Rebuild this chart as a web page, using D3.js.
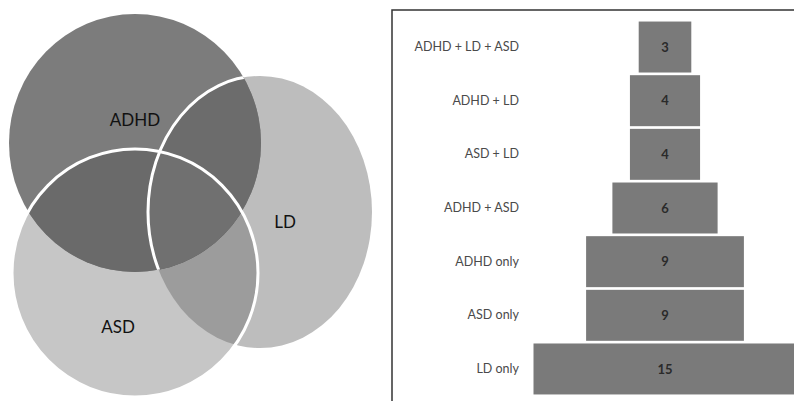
<!DOCTYPE html>
<html><head><meta charset="utf-8">
<script src="https://cdn.jsdelivr.net/npm/d3@7"></script>
<style>html,body{margin:0;padding:0;background:#fff;}svg{display:block;}</style>
</head><body>
<svg id="chart" width="794" height="401"></svg>
<script>
// ---- data ----
const categories = ["ADHD + LD + ASD", "ADHD + LD", "ASD + LD", "ADHD + ASD", "ADHD only", "ASD only", "LD only"];
const values = [3, 4, 4, 6, 9, 9, 15];
const setNames = ["ADHD", "LD", "ASD"];

// ---- layout ----
const svg = d3.select("#chart");
const font = "Lato, 'Open Sans', sans-serif";

// Venn geometry (layout)
const venn = {
  ADHD: {cx: 135, cy: 143, rx: 126, ry: 129, label: [135, 126]},
  LD:   {cx: 260, cy: 212, rx: 112, ry: 136, label: [285, 228]},
  ASD:  {cx: 135, cy: 273, rx: 123, ry: 124, label: [118, 333]}
};
const defs = svg.append("defs");
setNames.forEach(n => {
  defs.append("clipPath").attr("id", "clip-" + n)
    .append("ellipse").attr("cx", venn[n].cx).attr("cy", venn[n].cy)
    .attr("rx", venn[n].rx).attr("ry", venn[n].ry);
});
const g = svg.append("g");
function ell(n, fill, clips) {
  let parent = g;
  clips.forEach(c => { parent = parent.append("g").attr("clip-path", `url(#clip-${c})`); });
  return parent.append("ellipse").attr("cx", venn[n].cx).attr("cy", venn[n].cy)
    .attr("rx", venn[n].rx).attr("ry", venn[n].ry).attr("fill", fill);
}
ell("ASD", "#c6c6c6", []);
ell("LD", "#bdbdbd", []);
ell("LD", "#9c9c9c", ["ASD"]);
ell("ADHD", "#7c7c7c", []);
ell("LD", "#6c6c6c", ["ADHD"]);
ell("ASD", "#6a6a6a", ["ADHD"]);
ell("LD", "#707070", ["ADHD", "ASD"]);
// white outlines
g.append("g").attr("clip-path", "url(#clip-ADHD)")
  .append("ellipse").attr("cx", venn.LD.cx).attr("cy", venn.LD.cy)
  .attr("rx", venn.LD.rx).attr("ry", venn.LD.ry)
  .attr("fill", "none").attr("stroke", "#fff").attr("stroke-width", 3);
g.append("ellipse").attr("cx", venn.ASD.cx).attr("cy", venn.ASD.cy)
  .attr("rx", venn.ASD.rx).attr("ry", venn.ASD.ry)
  .attr("fill", "none").attr("stroke", "#fff").attr("stroke-width", 3);
// labels
g.selectAll("text.venn").data(setNames).join("text").attr("class", "venn")
  .attr("x", d => venn[d].label[0]).attr("y", d => venn[d].label[1])
  .attr("text-anchor", "middle").attr("font-family", font).attr("font-size", 17)
  .attr("fill", "#111").text(d => d);

// ---- bar (pyramid) chart ----
const frameX = 392, frameY = 10;
svg.append("path").attr("d", `M${frameX},401 V${frameY} H794`)
  .attr("fill", "none").attr("stroke", "#333").attr("stroke-width", 1.5);

const y = d3.scaleBand().domain(categories).range([21, 395]).paddingInner(0.05).paddingOuter(0.01);
const w = d3.scaleLinear().domain([0, 15]).range([0, 263]);
const cx = 665;
const bars = svg.append("g");
bars.selectAll("rect").data(categories).join("rect")
  .attr("x", (d, i) => cx - w(values[i]) / 2)
  .attr("y", d => y(d))
  .attr("width", (d, i) => w(values[i]))
  .attr("height", y.bandwidth())
  .attr("fill", "#7a7a7a");
bars.selectAll("text.val").data(categories).join("text").attr("class", "val")
  .attr("x", cx).attr("y", d => y(d) + y.bandwidth() / 2)
  .attr("dy", "0.35em").attr("text-anchor", "middle")
  .attr("font-family", font).attr("font-size", 13).attr("font-weight", "bold")
  .attr("fill", "#2a2a2a").text((d, i) => values[i]);

const axis = d3.axisLeft(y).tickSize(0).tickPadding(0);
const ax = svg.append("g").attr("transform", "translate(519,0)").call(axis);
ax.select(".domain").remove();
ax.selectAll("text").attr("font-family", font).attr("font-size", 12.5).attr("fill", "#4a4a4a");
</script>
</body></html>
